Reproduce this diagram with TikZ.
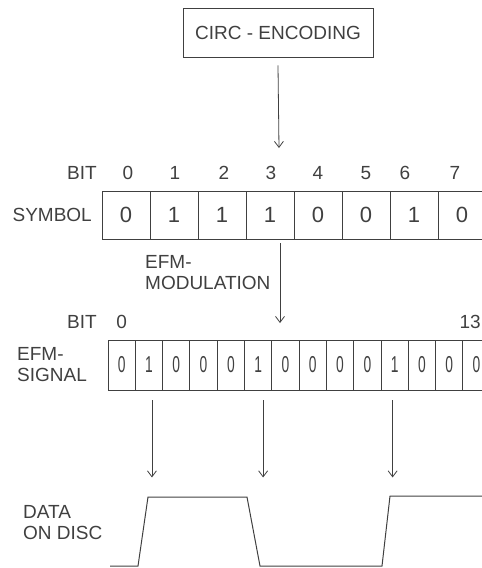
\documentclass[tikz,border=0pt]{standalone}
\usepackage{fontspec}
\usepackage{graphicx}
\setmainfont{Liberation Sans}
\usetikzlibrary{positioning,arrows.meta}
\definecolor{ink}{gray}{0.25}
\tikzset{
  lbl/.style={font=\fontsize{19}{21}\selectfont, text=ink, inner sep=0pt},
  symcell/.style={draw=ink, line width=0.9pt, minimum width=48pt, minimum height=48pt, inner sep=0pt, font=\fontsize{22}{22}\selectfont, text=ink},
  efmcell/.style={draw=ink, line width=0.9pt, minimum width=27.3pt, minimum height=50pt, inner sep=0pt, font=\fontsize{23}{23}\selectfont, text=ink},
  arr/.style={draw=ink, line width=0.8pt, -{Straight Barb[length=6pt,width=9pt]}}
}
\begin{document}
\begin{tikzpicture}[x=1pt,y=-1pt]
  \useasboundingbox (0,0) rectangle (482,568);
  \clip (0,0) rectangle (482,568);

  \node[lbl, draw=ink, line width=0.9pt, minimum width=190pt, minimum height=49pt] (circ) at (278,32.5) {CIRC - ENCODING};

  % symbol
  \node[lbl, anchor=east] (bitA) at (97,173) {BIT};
  \foreach \i/\x in {0/128,1/175,2/224,3/271,4/318,5/366,6/405,7/455}
    \node[lbl] (b\i) at (\x,173) {\i};
  \node[lbl, anchor=east] (symlbl) at (92,215) {SYMBOL};
  \foreach \b [count=\i from 0] in {0,1,1,1,0,0,1,0}
    \node[symcell] (s\i) at ({126+48*\i},215) {\b};

  \coordinate (symin) at (279,148);
  \draw[arr] ([yshift=-8pt]circ.south) -- (symin);

  % modulation
  \node[lbl, anchor=west, align=left] (mod) at (145,272.5) {EFM-\\MODULATION};
  \coordinate (modin) at (280,323);
  \draw[arr] ([xshift=10pt,yshift=-4pt]s3.south) -- (modin);

  % efm signal
  \node[lbl, anchor=east] (bitB) at (97,322) {BIT};
  \node[lbl, anchor=west, align=left] (efmlbl) at (17,365) {EFM-\\SIGNAL};
  \foreach \b [count=\i from 0] in {0,1,0,0,0,1,0,0,0,0,1,0,0,0}
    \node[efmcell] (e\i) at ({121.65+27.3*\i},365) {\scalebox{0.6}[1]{\b}};
  \node[lbl] (n0) at (e0 |- bitB) {0};
  \node[lbl, anchor=east] (n13) at (481,322) {13};

  % data on disc
  \node[lbl, anchor=west, align=left] (disc) at (23,522.5) {DATA\\ON DISC};
  \foreach \i/\dx in {1/3,5/5,10/-2}{
    \coordinate (w\i) at ([xshift=\dx pt,yshift=-87pt]e\i.south);
    \draw[arr] ([xshift=\dx pt,yshift=-10pt]e\i.south) -- (w\i);
  }
  \draw[ink, line width=1pt] (110,566) -- (138,566) -- (148,497) -- (247,497) -- (260,566)
    -- (382,566) -- (390,496) -- (482,496);
\end{tikzpicture}
\end{document}
